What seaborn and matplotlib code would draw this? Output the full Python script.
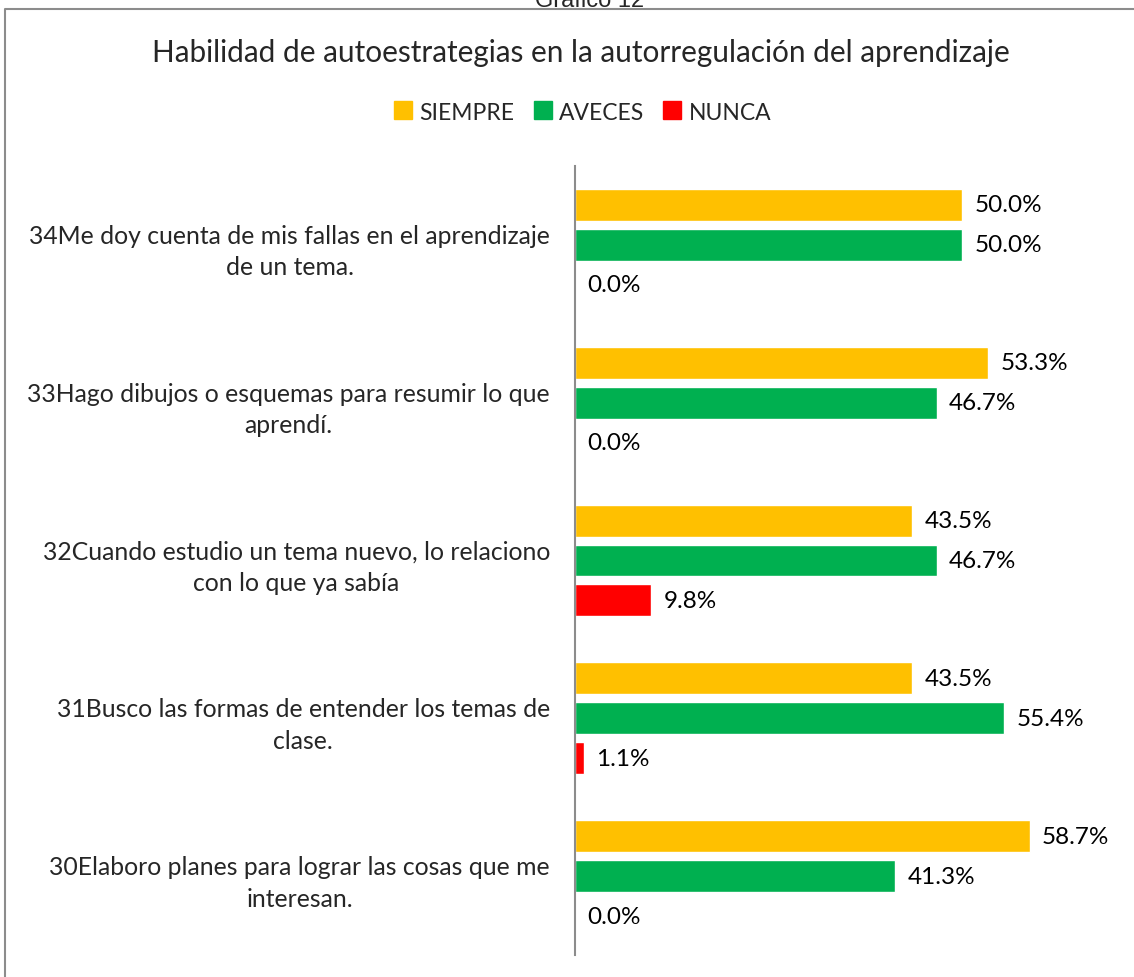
import pandas as pd
import matplotlib.pyplot as plt
import seaborn as sns
from matplotlib.lines import Line2D

# data
preguntas = ['34Me doy cuenta de mis fallas en el aprendizaje\nde un tema.',
             '33Hago dibujos o esquemas para resumir lo que\naprendí.',
             '32Cuando estudio un tema nuevo, lo relaciono\ncon lo que ya sabía',
             '31Busco las formas de entender los temas de\nclase.',
             '30Elaboro planes para lograr las cosas que me\ninteresan.']
siempre = [50.0, 53.3, 43.5, 43.5, 58.7]
aveces = [50.0, 46.7, 46.7, 55.4, 41.3]
nunca = [0.0, 0.0, 9.8, 1.1, 0.0]
respuestas = ['SIEMPRE', 'AVECES', 'NUNCA']
colores = ['#FFC000', '#00B050', '#FF0000']

df = pd.DataFrame({'pregunta': preguntas * 3,
                   'respuesta': [r for r in respuestas for _ in preguntas],
                   'pct': siempre + aveces + nunca})

sns.set_style('white')
plt.rcParams['font.family'] = ['Lato', 'DejaVu Sans']

fig = plt.figure(figsize=(11.34, 9.78), dpi=100)
ax = fig.add_axes([575 / 1134, 1 - 956 / 978, 542 / 1134, 789 / 978])

sns.barplot(data=df, x='pct', y='pregunta', hue='respuesta', order=preguntas,
            hue_order=respuestas, palette=colores, orient='h',
            width=0.76, gap=0.2, ax=ax, legend=False, saturation=1)

for c in ax.containers:
    ax.bar_label(c, fmt='%.1f%%', padding=9, fontsize=17.5, color='black')

ax.set_xlim(0, 70)
ax.set_xlabel('')
ax.set_ylabel('')
ax.set_xticks([])
for s in ['top', 'right', 'bottom']:
    ax.spines[s].set_visible(False)
ax.spines['left'].set_color('#8c8c8c')
ax.spines['left'].set_linewidth(1.5)
ax.tick_params(axis='y', length=0, pad=18, labelsize=17.8)
for t in ax.get_yticklabels():
    t.set_multialignment('center')
    t.set_linespacing(1.45)

# titles
fig.text(590 / 1134, 1 - 7 / 978, 'Gráfico 12', ha='center', va='baseline',
         fontsize=17, family=['Liberation Sans', 'DejaVu Sans'])
fig.text(581 / 1134, 1 - 53 / 978,
         'Habilidad de autoestrategias en la autorregulación del aprendizaje',
         ha='center', va='center', fontsize=21.4)

handles = [Line2D([], [], marker='s', linestyle='', markersize=13,
                  markerfacecolor=c, markeredgecolor=c) for c in colores]
fig.legend(handles, respuestas, loc='center', ncol=3, frameon=False,
           bbox_to_anchor=(583 / 1134, 1 - 113 / 978), fontsize=16.5,
           handlelength=0.7, handletextpad=0.35, columnspacing=0.9)

# chart frame (cut at the edges of the picture)
fig.add_artist(Line2D([5 / 1134, 5 / 1134, 1.0], [0.0, 1 - 10 / 978, 1 - 10 / 978],
                      transform=fig.transFigure, color='#8c8c8c', linewidth=1.5))

fig.savefig('out.png', dpi=100)
